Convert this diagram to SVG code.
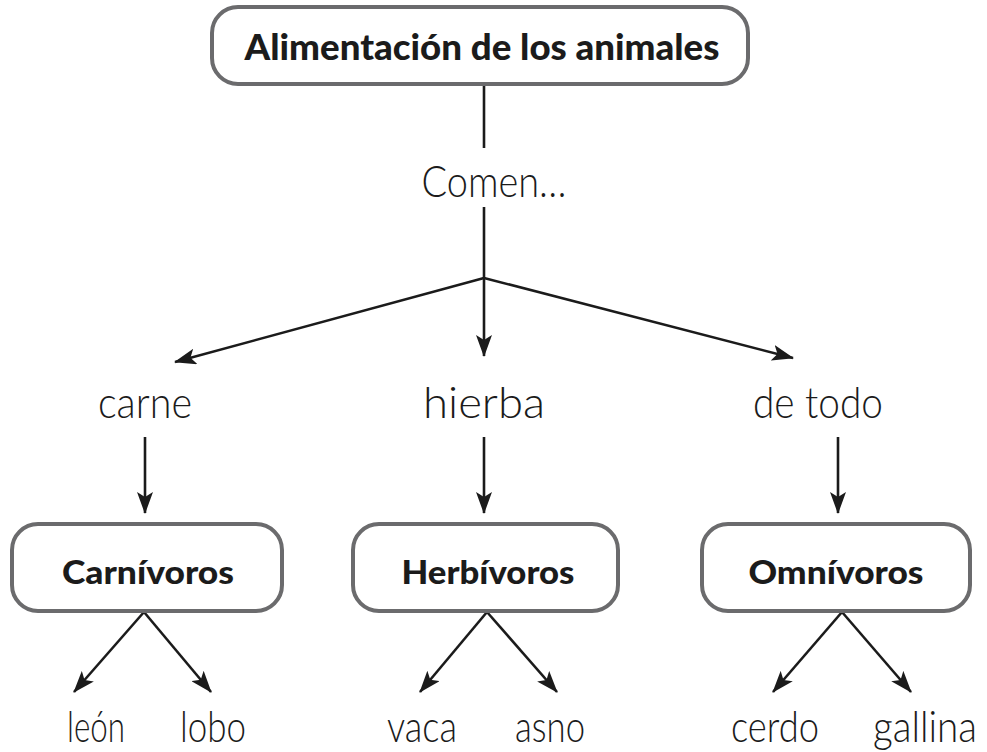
<svg xmlns="http://www.w3.org/2000/svg" width="987" height="752" viewBox="0 0 987 752">
<style>
.box{fill:#fff;stroke:#6b6b6d;stroke-width:4}
.b{font-family:"Lato","Liberation Sans",sans-serif;font-weight:900;fill:#1b1b1b;text-anchor:middle}
.r{font-family:"Lato","Liberation Sans",sans-serif;font-weight:300;fill:#1b1b1b;text-anchor:middle;font-size:43px}
.ln{stroke:#1b1b1b;stroke-width:2.6;fill:none}
.ar{marker-end:url(#ah)}
</style>
<defs>
<marker id="ah" markerUnits="userSpaceOnUse" markerWidth="22" markerHeight="16" refX="21" refY="8" orient="auto" viewBox="0 0 22 16">
<path d="M0,0 L22,8 L0,16 L5,8 z" fill="#1b1b1b"/>
</marker>
</defs>
<rect width="987" height="752" fill="#fff"/>
<g id="connectors">
<line class="ln" x1="484" y1="85" x2="484" y2="148"/>
<line class="ln" x1="484" y1="207" x2="484" y2="278"/>
<line class="ln ar" x1="484" y1="278" x2="175" y2="362"/>
<line class="ln ar" x1="484" y1="278" x2="484" y2="356"/>
<line class="ln ar" x1="484" y1="278" x2="793" y2="358"/>
<line class="ln ar" x1="145" y1="437" x2="145" y2="513"/>
<line class="ln ar" x1="484" y1="437" x2="484" y2="513"/>
<line class="ln ar" x1="838" y1="437" x2="838" y2="513"/>
<line class="ln ar" x1="144" y1="612" x2="74" y2="692"/>
<line class="ln ar" x1="144" y1="612" x2="211" y2="692"/>
<line class="ln ar" x1="487" y1="612" x2="420" y2="692"/>
<line class="ln ar" x1="487" y1="612" x2="557" y2="692"/>
<line class="ln ar" x1="842" y1="612" x2="773" y2="692"/>
<line class="ln ar" x1="842" y1="612" x2="911" y2="692"/>
</g>
<g id="n-root">
<rect class="box" x="212" y="7" width="536" height="77" rx="26"/>
<text class="b" x="482" y="60" font-size="36" textLength="475" lengthAdjust="spacingAndGlyphs">Alimentación de los animales</text>
</g>
<g id="n-comen"><text class="r" x="494" y="197" textLength="145" lengthAdjust="spacingAndGlyphs">Comen…</text></g>
<g id="n-carne"><text class="r" x="145" y="418" textLength="94" lengthAdjust="spacingAndGlyphs">carne</text></g>
<g id="n-hierba"><text class="r" x="484" y="418" textLength="122" lengthAdjust="spacingAndGlyphs">hierba</text></g>
<g id="n-detodo"><text class="r" x="818" y="418" textLength="130" lengthAdjust="spacingAndGlyphs">de todo</text></g>
<g id="n-carnivoros">
<rect class="box" x="12" y="524" width="270" height="87" rx="26"/>
<text class="b" x="148" y="584" font-size="32" textLength="172" lengthAdjust="spacingAndGlyphs">Carnívoros</text>
</g>
<g id="n-herbivoros">
<rect class="box" x="353" y="524" width="265" height="87" rx="26"/>
<text class="b" x="488" y="584" font-size="32" textLength="173" lengthAdjust="spacingAndGlyphs">Herbívoros</text>
</g>
<g id="n-omnivoros">
<rect class="box" x="702" y="524" width="268" height="87" rx="26"/>
<text class="b" x="836" y="584" font-size="32" textLength="175" lengthAdjust="spacingAndGlyphs">Omnívoros</text>
</g>
<g id="n-leon"><text class="r" x="96" y="742" textLength="58" lengthAdjust="spacingAndGlyphs">león</text></g>
<g id="n-lobo"><text class="r" x="213" y="742" textLength="66" lengthAdjust="spacingAndGlyphs">lobo</text></g>
<g id="n-vaca"><text class="r" x="422" y="742" textLength="70" lengthAdjust="spacingAndGlyphs">vaca</text></g>
<g id="n-asno"><text class="r" x="550" y="742" textLength="70" lengthAdjust="spacingAndGlyphs">asno</text></g>
<g id="n-cerdo"><text class="r" x="775" y="742" textLength="88" lengthAdjust="spacingAndGlyphs">cerdo</text></g>
<g id="n-gallina"><text class="r" x="925" y="742" textLength="104" lengthAdjust="spacingAndGlyphs">gallina</text></g>
</svg>
